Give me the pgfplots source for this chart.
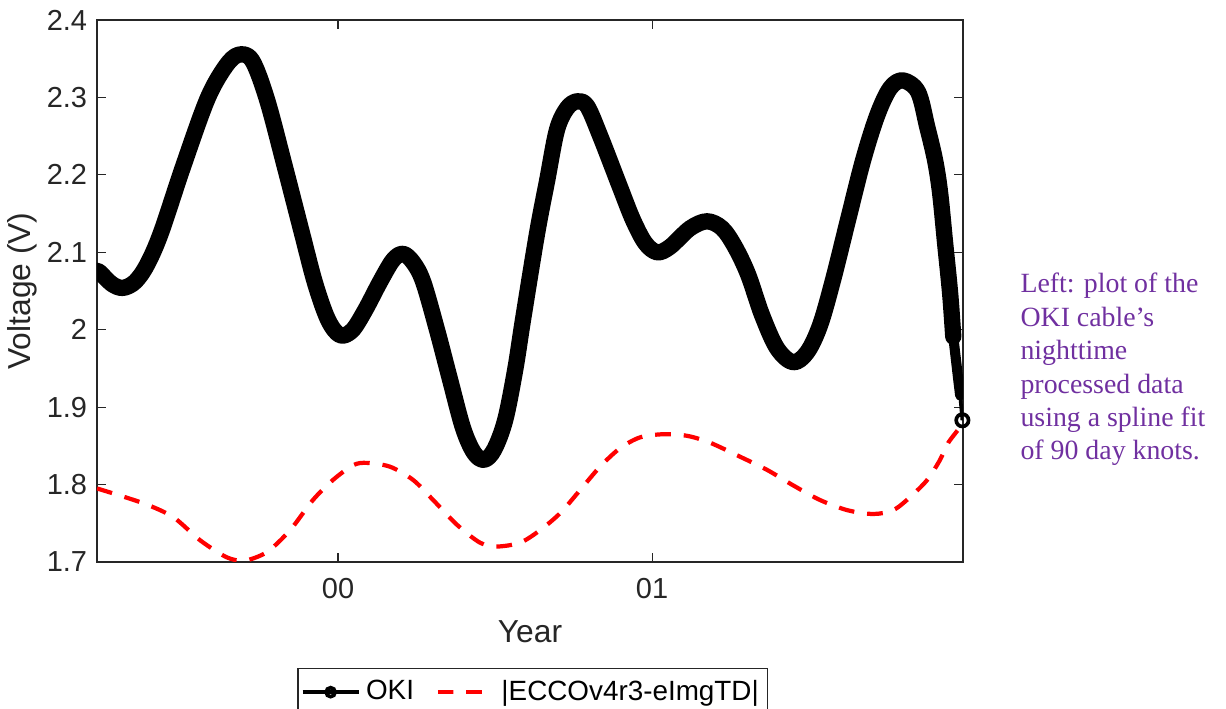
\documentclass[border=0pt]{standalone}
\usepackage{pgfplots}
\pgfplotsset{compat=1.18}
\usepackage{fontspec}
\setmainfont{Liberation Sans}
\newfontfamily\notefont{Liberation Serif}
\definecolor{axgray}{RGB}{38,38,38}
\definecolor{notepurple}{RGB}{112,48,160}

\begin{document}
\begin{tikzpicture}
\useasboundingbox (-1.2125,-1.8375) rectangle (14.1125,7.025);
\begin{axis}[
  scale only axis, width=10.825cm, height=6.775cm,
  at={(0,0)}, anchor=south west,
  xmin=-0.7675, xmax=1.990, ymin=1.7, ymax=2.4,
  xtick={0,1}, xticklabels={00,01},
  ytick={1.7,1.8,1.9,2,2.1,2.2,2.3,2.4},
  tick align=inside, major tick length=0.11cm,
  tick style={axgray, line width=0.4pt},
  axis line style={axgray, line width=0.5pt},
  tick label style={font=\fontsize{10.3}{12}\selectfont, text=axgray},
  xticklabel style={yshift=-0.08cm},
  /pgf/number format/assume math mode=true,
  xlabel={Year}, ylabel={Voltage (V)},
  label style={font=\fontsize{11.3}{13}\selectfont, text=axgray},
  ylabel style={at={(axis description cs:-0.0866,0.5)}, anchor=center},
  xlabel style={at={(axis description cs:0.5,-0.129)}, anchor=center},
  legend columns=2,
  legend style={at={(0.503,-0.1956)}, anchor=north, draw=axgray, line width=0.5pt,
    font=\fontsize{9.9}{12}\selectfont, text=black, inner xsep=1pt, inner ysep=2pt,
    /tikz/every even column/.append style={column sep=0.2cm}},
  legend image code/.code={\draw[mark repeat=2,mark phase=2,#1] plot coordinates {(0cm,0cm) (0.35cm,0cm) (0.7cm,0cm)};},
]
% OKI spline fit (dense circle markers drawn as a thick band)
\addplot[forget plot, black, line width=5.8pt, line cap=round, line join=round, smooth, tension=0.55] coordinates {
(-0.7675,2.076) (-0.758,2.074) (-0.720,2.059) (-0.685,2.054) (-0.646,2.062) (-0.608,2.084)
(-0.564,2.125) (-0.494,2.210) (-0.417,2.297) (-0.360,2.339) (-0.318,2.355) (-0.274,2.348)
(-0.226,2.297) (-0.169,2.210) (-0.115,2.125) (-0.073,2.060) (-0.032,2.013) (0.006,1.993)
(0.045,1.999) (0.086,2.025) (0.134,2.062) (0.175,2.090) (0.207,2.098) (0.239,2.087)
(0.271,2.062) (0.315,2.000) (0.357,1.935) (0.398,1.873) (0.433,1.841) (0.465,1.832)
(0.497,1.845) (0.532,1.883) (0.564,1.948) (0.589,2.013) (0.634,2.125) (0.666,2.193)
(0.697,2.258) (0.729,2.286) (0.761,2.295) (0.793,2.289) (0.834,2.251) (0.898,2.184)
(0.939,2.142) (0.978,2.112) (1.016,2.100) (1.057,2.107) (1.121,2.131) (1.175,2.140)
(1.223,2.131) (1.264,2.107) (1.306,2.071) (1.350,2.019) (1.398,1.976) (1.449,1.958)
(1.494,1.971) (1.535,2.006) (1.576,2.064) (1.624,2.142) (1.672,2.219) (1.717,2.277)
(1.758,2.312) (1.799,2.322) (1.847,2.307) (1.876,2.262) (1.901,2.219) (1.917,2.177)
(1.933,2.112) (1.949,2.047) (1.959,1.991)
};
\addplot[forget plot, black, line width=3.6pt, line cap=round] coordinates {
(1.959,1.991) (1.975,1.935) (1.981,1.915)
};
\addplot[forget plot, black, line width=1.3pt] coordinates {(1.981,1.915) (1.988,1.883)};
\addplot[forget plot, only marks, black, mark=o, mark size=2.2pt, line width=1.3pt] coordinates {(1.988,1.883)};
\addlegendimage{black, line width=1.3pt, mark=o, mark size=1.6pt}
\addlegendentry{OKI}
% |ECCOv4r3 - eImgTD|
\addplot[red, line width=1.5pt, dash pattern=on 5.6pt off 4.6pt, smooth, tension=0.5] coordinates {
(-0.7675,1.795) (-0.621,1.776) (-0.525,1.758) (-0.439,1.728) (-0.354,1.706) (-0.296,1.702)
(-0.226,1.713) (-0.153,1.741) (-0.080,1.780) (-0.016,1.806) (0.048,1.825) (0.092,1.828)
(0.166,1.823) (0.239,1.806) (0.303,1.780) (0.379,1.748) (0.452,1.725) (0.506,1.720)
(0.580,1.725) (0.643,1.741) (0.707,1.763) (0.771,1.793) (0.834,1.823) (0.898,1.847)
(0.962,1.861) (1.035,1.865) (1.111,1.863) (1.185,1.854) (1.280,1.836) (1.366,1.819)
(1.449,1.799) (1.535,1.780) (1.621,1.767) (1.704,1.762) (1.768,1.767) (1.822,1.784)
(1.876,1.806) (1.917,1.832) (1.943,1.854) (1.987,1.877)
};
\addlegendentry{|ECCOv4r3-eImgTD|}
\end{axis}
\begin{scope}[every node/.style={anchor=base west, inner sep=0pt, text=notepurple, font=\notefont\fontsize{9.9}{12}\selectfont}]
\node at (11.5375,3.3625) {Left: plot of the};
\node at (11.5375,2.945) {OKI cable’s};
\node at (11.5375,2.5275) {nighttime};
\node at (11.5375,2.11) {processed data};
\node at (11.5375,1.6925) {using a spline fit};
\node at (11.5375,1.275) {of 90 day knots.};
\end{scope}
\end{tikzpicture}
\end{document}
